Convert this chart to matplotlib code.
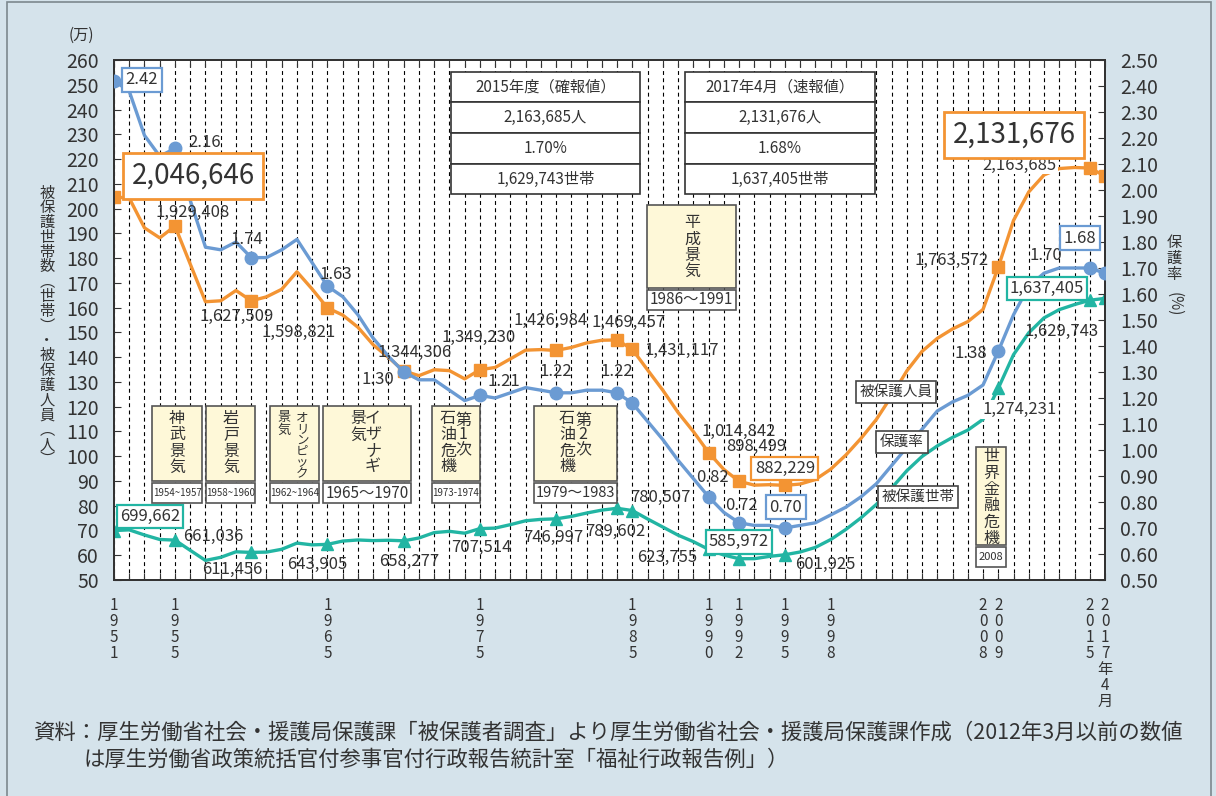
import numpy as np
import matplotlib.pyplot as plt
from matplotlib.patches import Rectangle
from matplotlib.transforms import blended_transform_factory

# ---- data (1951..2015 fiscal year, then 2017年4月) ----
years = [str(y) for y in range(1951, 2016)] + ['2017年4月']
persons = [2046646, 2042550, 1922060, 1881687, 1929408, 1775971, 1623744, 1627571, 1669180, 1627509,
           1643445, 1674001, 1744639, 1674661, 1598821, 1570054, 1520733, 1449970, 1398725, 1344306,
           1325218, 1349144, 1345549, 1312339, 1349230, 1358316, 1393128, 1428261, 1430488, 1426984,
           1439226, 1457383, 1468245, 1469457, 1431117, 1348163, 1266126, 1176258, 1099520, 1014842,
           946374, 898499, 883112, 884912, 882229, 887450, 905589, 946994, 1004472, 1072241,
           1148088, 1242723, 1344327, 1423388, 1475838, 1513892, 1543321, 1592620, 1763572, 1952063,
           2067244, 2135708, 2161612, 2165895, 2163685, 2131676]
rate = [2.42, 2.38, 2.21, 2.13, 2.16, 1.96, 1.78, 1.77, 1.80, 1.74,
        1.74, 1.77, 1.81, 1.72, 1.63, 1.59, 1.52, 1.43, 1.36, 1.30,
        1.27, 1.27, 1.23, 1.19, 1.21, 1.20, 1.22, 1.24, 1.23, 1.22,
        1.22, 1.23, 1.23, 1.22, 1.18, 1.11, 1.04, 0.96, 0.89, 0.82,
        0.76, 0.72, 0.71, 0.71, 0.70, 0.71, 0.72, 0.75, 0.78, 0.82,
        0.87, 0.94, 1.01, 1.08, 1.15, 1.185, 1.21, 1.25, 1.38, 1.52,
        1.63, 1.68, 1.70, 1.70, 1.70, 1.68]
households = [699662, 702450, 681751, 663627, 661036, 619865, 579037, 591563, 613905, 611456,
              612666, 624012, 649073, 641869, 643905, 657193, 661647, 659096, 660509, 658277,
              669662, 691362, 696540, 688984, 707514, 709613, 723587, 739244, 744841, 746997,
              756726, 770388, 782265, 789602, 780507, 746355, 713825, 681018, 654915, 623755,
              600697, 585972, 586106, 595407, 601925, 613106, 631488, 663060, 704055, 751303,
              805169, 870931, 941270, 998887, 1041508, 1075820, 1105275, 1148766, 1274231, 1410049,
              1498375, 1558510, 1591846, 1612340, 1629743, 1637405]
marked = [0, 4, 9, 14, 19, 24, 29, 33, 34, 39, 41, 44, 58, 64, 65]
year_labels = ['1951', '1955', '1965', '1975', '1985', '1990', '1992', '1995',
               '1998', '2008', '2009', '2015', '2017年4月']

ORANGE = '#f39433'
BLUE = '#6b9bd3'
TEAL = '#22b5a3'
BG = '#d5e3eb'
INK = '#333333'
CREAM = '#fef8d8'

plt.rcParams['font.family'] = ['Noto Sans CJK JP', 'DejaVu Sans']
plt.rcParams['text.color'] = INK

W, H = 1216, 796
fig = plt.figure(figsize=(W / 100, H / 100), dpi=100)
fig.patch.set_facecolor(BG)


def fx(v):
    return v / W


def fy(v):
    return 1 - v / H


ax = fig.add_axes([fx(114), fy(580), (1105 - 114) / W, (580 - 60) / H])
ax2 = ax.twinx()

x = np.arange(len(years))
p = np.array(persons) / 1e4
h = np.array(households) / 1e4
r = np.array(rate)
m = np.array(marked)

ax.plot(x, p, color=ORANGE, lw=2.4, zorder=3)
ax.plot(x[m], p[m], 's', ms=8.5, color=ORANGE, zorder=4)
ax.plot(x, h, color=TEAL, lw=2.4, zorder=3)
ax.plot(x[m], h[m], '^', ms=9, color=TEAL, zorder=4)
ax2.plot(x, r, color=BLUE, lw=2.4, zorder=3)
ax2.plot(x[m], r[m], 'o', ms=9, color=BLUE, zorder=4)

ax.set_xlim(0, len(years) - 1)
ax.set_ylim(50, 260)
ax.set_yticks(range(50, 261, 10))
ax2.set_ylim(0.5, 2.5)
ax2.set_yticks(np.round(np.arange(0.5, 2.51, 0.1), 2))
ax2.set_yticklabels([f'{v:.2f}' for v in np.arange(0.5, 2.51, 0.1)])
ax.set_xticks(x)
ax.tick_params(axis='x', direction='in', length=5, top=True, labelbottom=False, color=INK)
ax.grid(axis='x', color='k', ls=(0, (3.5, 3)), lw=0.8)
ax.tick_params(axis='y', direction='in', length=5, pad=11, labelsize=14, colors=INK)
ax2.tick_params(axis='y', direction='in', length=5, pad=11, labelsize=14, colors=INK)
for a in (ax, ax2):
    for s in a.spines.values():
        s.set_color(INK)
        s.set_linewidth(1.4)

# x tick labels, written vertically (one character per line)
bt = blended_transform_factory(ax.transData, fig.transFigure)
for lab in year_labels:
    ax.text(years.index(lab), fy(597), '\n'.join(lab), transform=bt, ha='center', va='top',
            fontsize=11, linespacing=0.92)


# ---- value labels ----
def lab(axis, xy_tr, i, val, txt, dx, dy, ec=None, size=12, big=False, white=False):
    kw = {}
    if ec is not None:
        kw['bbox'] = dict(boxstyle='square,pad=0.3' if big else 'square,pad=0.2',
                          fc='white', ec=ec, lw=2 if big else 1.6)
    elif white:
        kw['bbox'] = dict(boxstyle='square,pad=0.05', fc='white', ec='none')
    ax2.annotate(txt, xy=(i, val), xycoords=xy_tr, xytext=(dx, dy), textcoords='offset pixels',
                 ha='center', va='center', fontsize=size, annotation_clip=False, zorder=6, **kw)


blue_pos = {0: (28, 1, BLUE), 4: (30, 6, None), 9: (-4, 18, None), 14: (8, 12, None),
            19: (-26, -8, None), 24: (24, 14, None), 29: (0, 21, None), 33: (0, 21, None),
            39: (4, 19, None), 41: (2, 17, None), 44: (1, 21, BLUE), 58: (-27, -2, None),
            64: (-44, 12, None), 65: (-25, 35, BLUE)}
for i, (dx, dy, ec) in blue_pos.items():
    lab(ax2, ax2.transData, i, r[i], f'{rate[i]:.2f}', dx, dy, ec)

orange_pos = {4: (18, 14), 9: (-15, -16), 14: (-29, -25), 19: (11, 18), 24: (-1, 32),
              29: (-6, 30), 33: (11, 17), 34: (49, -1), 39: (30, 21), 41: (17, 35),
              58: (-47, 7)}
for i, (dx, dy) in orange_pos.items():
    lab(ax2, ax.transData, i, p[i], f'{persons[i]:,}', dx, dy)
lab(ax2, ax.transData, 44, p[44], f'{persons[44]:,}', 0, 17, ORANGE)
lab(ax2, ax.transData, 64, p[64], f'{persons[64]:,}', -70, 3, white=True)
lab(ax2, ax.transData, 0, p[0], f'{persons[0]:,}', 79, 21, ORANGE, size=20, big=True)
lab(ax2, ax.transData, 65, p[65], f'{persons[65]:,}', -91, 41, ORANGE, size=20, big=True)

teal_pos = {4: (38, 4), 9: (-19, -17), 14: (-10, -20), 19: (6, -21), 24: (1, -19),
            29: (-3, -19), 33: (-2, -23), 34: (28, 13), 39: (-41, -8), 44: (40, -10),
            64: (-28, -31)}
for i, (dx, dy) in teal_pos.items():
    lab(ax2, ax.transData, i, h[i], f'{households[i]:,}', dx, dy)
lab(ax2, ax.transData, 0, h[0], f'{households[0]:,}', 36, 14, TEAL)
lab(ax2, ax.transData, 41, h[41], f'{households[41]:,}', 0, 17, TEAL)
lab(ax2, ax.transData, 58, h[58], f'{households[58]:,}', 21, -21, white=True)
lab(ax2, ax.transData, 65, h[65], f'{households[65]:,}', -58, 10, TEAL)


# ---- boxes drawn in figure pixels ----
def rect(x0, y0, x1, y1, fc='white', ec=INK, lw=1.2, z=10):
    fig.add_artist(Rectangle((fx(x0), fy(y1)), (x1 - x0) / W, (y1 - y0) / H,
                             transform=fig.transFigure, fc=fc, ec=ec, lw=lw, zorder=z))


def vtext(xc, y0, s, step, size=11.5):
    for k, ch in enumerate(s):
        fig.text(fx(xc), fy(y0 + k * step), ch, ha='center', va='center',
                 fontsize=size, zorder=11)


# boom / crisis boxes: (x0, x1, y0, y1, [(col_x, text, y_start, step, size)], period, period_size)
booms = [
    (152, 202, 406, 481, [(177, '神武景気', 419, 16, 11.5)], '1954~1957', 7),
    (206, 255, 406, 481, [(231, '岩戸景気', 419, 16, 11.5)], '1958~1960', 7),
    (270, 319, 406, 481, [(302, 'オリンピック', 418, 11.2, 9), (284, '景気', 418, 12, 9.5)], '1962~1964', 7),
    (323, 411, 406, 481, [(373, 'イザナギ', 419, 16, 11.5), (358, '景気', 419, 16, 11.5)], '1965～1970', 11),
    (432, 480, 406, 481, [(463, '第1次', 420, 15, 11.5), (448, '石油危機', 419, 16, 11.5)], '1973-1974', 7),
    (534, 617, 406, 481, [(583, '第2次', 420, 15, 11.5), (567, '石油危機', 419, 16, 11.5)], '1979～1983', 10.5),
    (647, 736, 205, 288, [(692, '平成景気', 223, 16, 11.5)], '1986～1991', 11),
    (976, 1006, 447, 545, [(991, '世界金融危機', 457, 16.2, 11.5)], '2008', 8),
]
for x0, x1, y0, y1, cols, period, ps in booms:
    rect(x0, y0, x1, y1, fc=CREAM, ec='#555555')
    for cx, s, ys, st, sz in cols:
        vtext(cx, ys, s, st, sz)
    rect(x0, y1 + 2, x1, y1 + 22, fc='white', ec='#555555')
    fig.text(fx((x0 + x1) / 2), fy(y1 + 12), period, ha='center', va='center',
             fontsize=ps, zorder=11)

# summary tables
tables = [
    (451, 640, ['2015年度（確報値）', f'{persons[64]:,}人', f'{rate[64]:.2f}%', f'{households[64]:,}世帯']),
    (685, 875, ['2017年4月（速報値）', f'{persons[65]:,}人', f'{rate[65]:.2f}%', f'{households[65]:,}世帯']),
]
edges = [72, 102, 133, 164, 194]
for x0, x1, rows in tables:
    for k, s in enumerate(rows):
        rect(x0, edges[k], x1, edges[k + 1])
        fig.text(fx((x0 + x1) / 2), fy((edges[k] + edges[k + 1]) / 2), s, ha='center',
                 va='center', fontsize=11, zorder=11)

# series names
for cx, cy, s in [(896, 392, '被保護人員'), (902, 442, '保護率'), (918, 497, '被保護世帯')]:
    fig.text(fx(cx), fy(cy), s, ha='center', va='center', fontsize=10.5, zorder=11,
             bbox=dict(boxstyle='square,pad=0.25', fc='white', ec='#444444', lw=1.2))

# axis titles
fig.text(fx(81), fy(35), '(万)', ha='center', va='center', fontsize=11)
vtext(47, 193, '被保護世帯数︵世帯︶・被保護人員︵人︶', 14.8, 11)
fig.text(fx(1174), fy(234), '\n'.join('保護率'), ha='center', va='top', fontsize=11,
         linespacing=0.92)
fig.text(fx(1174), fy(304), '(%)', ha='center', va='center', fontsize=11, rotation=-90)

# source note
fig.text(fx(33), fy(733), '資料：厚生労働省社会・援護局保護課「被保護者調査」より厚生労働省社会・援護局保護課作成（2012年3月以前の数値',
         ha='left', va='center', fontsize=15.4)
fig.text(fx(84), fy(760), 'は厚生労働省政策統括官付参事官付行政報告統計室「福祉行政報告例」）',
         ha='left', va='center', fontsize=15.4)

# outer frame
fig.add_artist(Rectangle((fx(7), fy(805)), (1211 - 7) / W, (805 - 2) / H, transform=fig.transFigure,
                         fill=False, ec='#7d888e', lw=1.2, zorder=12))

fig.savefig('out.png', dpi=100, facecolor=BG)
